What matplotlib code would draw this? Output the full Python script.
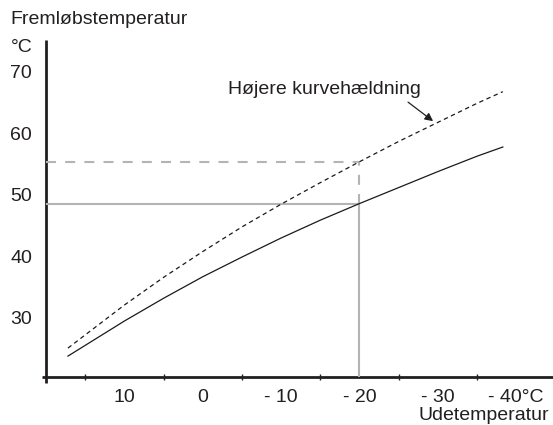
import numpy as np
import matplotlib
matplotlib.use("Agg")
import matplotlib.pyplot as plt

# outdoor temperature (deg C) and supply temperature
outdoor = [17.2, 10, 5, 0, -5, -10, -15, -20, -25, -30, -35, -38.3]
supply_normal = [23.8, 29.5, 33.2, 36.7, 39.9, 43.0, 45.9, 48.6, 51.2, 53.8, 56.3, 57.8]
supply_steep = [25.1, 32.1, 36.6, 40.8, 44.8, 48.5, 52.0, 55.4, 58.7, 61.8, 64.9, 66.8]

ref_outdoor = -20
x_tick_pos = [15, 5, -5, -15, -25, -35]
x_label_pos = [10, 0, -10, -20, -30, -40]
x_labels = ["10", "0", "- 10", "- 20", "- 30", "- 40°C"]
y_label_pos = [30, 40, 50, 60, 70]

plt.rcParams['font.family'] = ['Liberation Sans', 'DejaVu Sans']
text_col = '#231f20'
grey = '#b4b4b4'
fs = 14

W, H = 553, 425
fig = plt.figure(figsize=(W / 100, H / 100), dpi=100)
ax = fig.add_axes([46 / W, 48 / H, 507 / W, 337 / H])
ax.set_xlim(20, -44.7)
ax.set_ylim(20.4, 75.2)
for s in ax.spines.values():
    s.set_visible(False)

# axis lines (slightly overshooting like the original)
ax.plot([0, 0], [-6 / 337, 1], transform=ax.transAxes, color=text_col, lw=2, clip_on=False, solid_capstyle='butt')
ax.plot([-4 / 507, 1], [0, 0], transform=ax.transAxes, color=text_col, lw=2, clip_on=False, solid_capstyle='butt')

# reference lines at -20
y_norm = np.interp(-ref_outdoor, [-v for v in outdoor], supply_normal)
y_steep = np.interp(-ref_outdoor, [-v for v in outdoor], supply_steep)
ax.plot([20, ref_outdoor], [y_norm, y_norm], color=grey, lw=1.5)
ax.plot([ref_outdoor, ref_outdoor], [20.4, y_norm], color=grey, lw=1.5)
ax.plot([20, ref_outdoor], [y_steep, y_steep], color=grey, lw=1.5, linestyle=(0, (4.8, 4.4)))
ax.plot([ref_outdoor, ref_outdoor], [y_norm, y_steep], color=grey, lw=1.5, linestyle=(0, (4.8, 4.4)))

# curves
ax.plot(outdoor, supply_normal, color='#1a1a1a', lw=0.9)
ax.plot(outdoor, supply_steep, color='#1a1a1a', lw=0.9, linestyle=(0, (3.5, 2.8)))

# ticks
ax.set_xticks(x_tick_pos)
ax.set_xticklabels([])
ax.tick_params(axis='x', which='major', direction='inout', length=5, width=1, color=text_col)
ax.set_xticks(x_label_pos, minor=True)
ax.set_xticklabels(x_labels, minor=True)
ax.tick_params(axis='x', which='minor', length=0, pad=9, labelsize=fs, labelcolor=text_col)
ax.set_yticks(y_label_pos)
ax.set_yticklabels([str(v) for v in y_label_pos])
ax.tick_params(axis='y', length=0, pad=10, labelsize=fs, labelcolor=text_col)

# annotation
ax.text(-15.5, 67.2, "Højere kurvehældning", ha='center', va='center', fontsize=fs, color=text_col)
ax.annotate("", xy=(-29.4, 62.0), xytext=(-26.2, 65.1),
            arrowprops=dict(arrowstyle='-|>', color=text_col, lw=0.9, mutation_scale=12, shrinkA=0, shrinkB=0))

fig.text(10 / W, 1 - 20 / H, "Fremløbstemperatur", ha='left', va='center', fontsize=fs, color=text_col)
fig.text(33 / W, 1 - 48 / H, "°C", ha='right', va='center', fontsize=fs, color=text_col)
fig.text(418 / W, 1 - 415 / H, "Udetemperatur", ha='left', va='center', fontsize=fs, color=text_col)

fig.savefig("out.png", dpi=100)
